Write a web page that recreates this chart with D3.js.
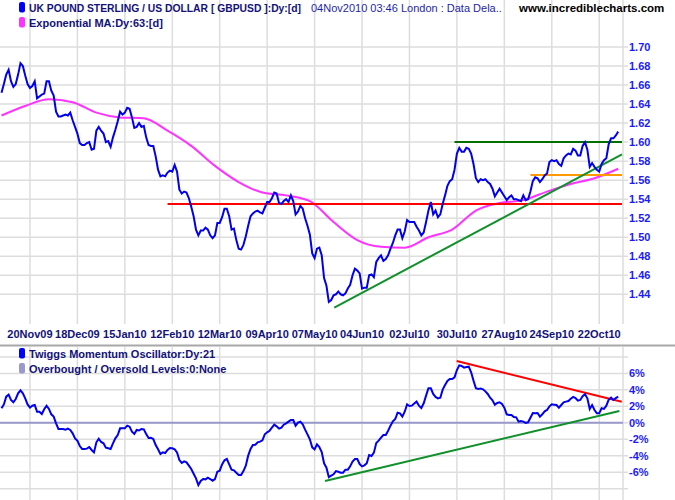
<!DOCTYPE html>
<html>
<head>
<meta charset="utf-8">
<script src="https://cdn.jsdelivr.net/npm/d3@7.9.0/dist/d3.min.js"></script>
<style>
  body { margin: 0; background: #fff; }
  svg { display: block; font-family: "Liberation Sans", Arial, sans-serif; font-weight: bold; }
</style>
</head>
<body>
<svg id="chart" width="675" height="500"></svg>
<script>
// GBPUSD daily close, one value per trading day (04Nov09 .. 03Nov10)
const price = [
  1.652, 1.661, 1.671, 1.676, 1.664, 1.658, 1.661, 1.671, 1.683, 1.680,
  1.670, 1.661, 1.657, 1.659, 1.664, 1.646, 1.648, 1.650, 1.651, 1.664,
  1.664, 1.654, 1.649, 1.632, 1.627, 1.627, 1.628, 1.629, 1.628, 1.631,
  1.623, 1.616, 1.609, 1.599, 1.597, 1.597, 1.599, 1.600, 1.592, 1.593,
  1.612, 1.616, 1.612, 1.609, 1.600, 1.601, 1.595, 1.605, 1.613, 1.622,
  1.632, 1.629, 1.631, 1.636, 1.635, 1.626, 1.615, 1.616, 1.620, 1.616,
  1.617, 1.605, 1.597, 1.596, 1.596, 1.585, 1.571, 1.564, 1.565, 1.564,
  1.568, 1.570, 1.569, 1.576, 1.569, 1.550, 1.546, 1.548, 1.547, 1.541,
  1.532, 1.522, 1.508, 1.502, 1.507, 1.507, 1.510, 1.508, 1.502, 1.499,
  1.502, 1.515, 1.515, 1.521, 1.530, 1.530, 1.522, 1.508, 1.509, 1.497,
  1.488, 1.487, 1.492, 1.501, 1.512, 1.522, 1.525, 1.527, 1.528, 1.526,
  1.525, 1.531, 1.537, 1.537, 1.541, 1.547, 1.546, 1.536, 1.535, 1.538,
  1.540, 1.537, 1.544, 1.538, 1.524, 1.527, 1.533, 1.530, 1.520, 1.512,
  1.503, 1.483, 1.478, 1.488, 1.489, 1.481, 1.457, 1.449, 1.432, 1.434,
  1.439, 1.440, 1.443, 1.440, 1.439, 1.441, 1.446, 1.450, 1.460, 1.467,
  1.465, 1.462, 1.446, 1.447, 1.447, 1.460, 1.461, 1.458, 1.474, 1.478,
  1.481, 1.475, 1.477, 1.481, 1.488, 1.494, 1.502, 1.508, 1.508, 1.499,
  1.506, 1.518, 1.516, 1.516, 1.516, 1.511, 1.507, 1.502, 1.505, 1.516,
  1.528, 1.537, 1.524, 1.528, 1.521, 1.524, 1.535, 1.544, 1.554, 1.559,
  1.561, 1.571, 1.588, 1.594, 1.590, 1.590, 1.594, 1.593, 1.588, 1.577,
  1.562, 1.558, 1.561, 1.560, 1.561, 1.558, 1.556, 1.551, 1.543, 1.547,
  1.551, 1.547, 1.543, 1.539, 1.542, 1.544, 1.540, 1.540, 1.539, 1.538,
  1.544, 1.539, 1.540, 1.548, 1.559, 1.563, 1.562, 1.558, 1.561, 1.565,
  1.567, 1.579, 1.581, 1.580, 1.581, 1.577, 1.575, 1.583, 1.586, 1.588,
  1.587, 1.593, 1.591, 1.586, 1.586, 1.596, 1.600, 1.592, 1.574, 1.578,
  1.574, 1.571, 1.569, 1.577, 1.581, 1.583, 1.598, 1.604, 1.604, 1.607,
  1.611
];
// 63-day exponential MA, one value every 10 trading days
const ema = [
  1.628, 1.638, 1.645, 1.642, 1.631, 1.626, 1.625, 1.612, 1.596, 1.575,
  1.558, 1.547, 1.544, 1.538, 1.516, 1.497, 1.490, 1.489, 1.500, 1.508,
  1.528, 1.536, 1.539, 1.548, 1.556, 1.562, 1.572
];
// Twiggs Momentum Oscillator (%), one value per trading day
const momentum = [
  1.76, 2.23, 3.18, 3.42, 2.77, 2.49, 2.89, 3.58, 3.95, 3.58,
  2.97, 2.23, 1.84, 2.08, 2.16, 1.35, 1.35, 1.07, 1.64, 2.08,
  1.68, 1.03, 0.75, -0.06, -0.75, -0.75, -0.75, -0.83, -0.71, -0.87,
  -1.28, -1.89, -2.17, -2.82, -3.18, -3.18, -3.14, -2.94, -3.30, -3.59,
  -2.37, -1.93, -2.33, -2.49, -3.02, -3.10, -3.18, -2.49, -1.89, -1.48,
  -0.67, -0.67, -0.67, -0.35, -0.47, -1.08, -1.36, -0.87, -0.92, -0.75,
  -0.79, -1.36, -1.85, -1.81, -1.97, -2.70, -3.22, -3.79, -3.59, -3.67,
  -3.30, -3.06, -3.10, -3.22, -3.59, -4.52, -4.88, -4.68, -4.80, -5.21,
  -5.61, -6.18, -6.75, -7.56, -7.07, -6.83, -6.87, -6.67, -6.83, -7.03,
  -6.83, -5.94, -5.82, -5.05, -4.56, -4.40, -5.05, -5.69, -5.78, -6.06,
  -6.34, -6.34, -5.86, -5.21, -3.99, -3.18, -2.70, -2.66, -2.37, -2.29,
  -2.13, -1.40, -1.16, -0.96, -0.59, -0.23, -0.43, -0.71, -0.59, -0.23,
  -0.06, 0.14, 0.34, 0.34, -0.35, 0.02, 0.14, -0.19, -0.83, -1.40,
  -2.0, -2.98, -3.22, -2.62, -2.94, -3.55, -4.92, -5.45, -6.6, -6.42,
  -6.26, -5.86, -5.94, -6.06, -6.06, -5.69, -5.69, -5.29, -4.72, -4.40,
  -4.40, -5.01, -5.29, -5.17, -4.92, -3.91, -4.03, -3.63, -2.45, -2.17,
  -1.81, -1.48, -1.48, -0.96, -0.35, 0.18, 0.46, 1.23, 1.15, 0.75,
  1.35, 2.24, 2.04, 2.08, 2.33, 2.57, 2.08, 1.80, 2.37, 3.30,
  4.19, 4.19, 3.50, 3.14, 2.97, 3.05, 4.03, 4.59, 5.08, 5.32,
  5.32, 5.52, 6.41, 6.98, 6.9, 6.70, 6.78, 6.82, 6.13, 5.12,
  4.19, 4.11, 4.15, 4.07, 3.82, 3.50, 3.05, 2.73, 2.20, 2.41,
  2.49, 2.28, 1.84, 1.03, 0.95, 0.95, 0.70, 0.66, 0.14, 0.22,
  0.14, -0.02, 0.06, 0.62, 1.19, 1.15, 1.19, 0.75, 1.03, 1.40,
  1.56, 2.00, 2.24, 2.20, 2.16, 1.84, 2.16, 2.49, 2.57, 2.65,
  2.93, 3.14, 3.01, 2.69, 2.77, 3.22, 3.46, 2.97, 1.68, 2.16,
  1.56, 1.15, 1.15, 1.76, 1.68, 2.08, 2.81, 3.05, 2.77, 3.01,
  3.18
];

// date axis: label and trading-day index
const dateLabels = ['20Nov09', '18Dec09', '15Jan10', '12Feb10', '12Mar10', '09Apr10', '07May10',
                    '04Jun10', '02Jul10', '30Jul10', '27Aug10', '24Sep10', '22Oct10'];
const dateIdx = [12, 32, 52, 72, 92, 112, 132, 152, 172, 192, 212, 232, 252];
const priceTicks = [1.44, 1.46, 1.48, 1.50, 1.52, 1.54, 1.56, 1.58, 1.60, 1.62, 1.64, 1.66, 1.68, 1.70];
const momTicks = [-6, -4, -2, 0, 2, 4, 6];
const momGrid = [-8, -6, -4, -2, 0, 2, 4, 6, 8];

// drawn trend lines: [dayIndex, value] pairs
const priceTrend = [
  { a: [70, 1.535], b: [261.6, 1.535], color: '#ff0000' },
  { a: [191, 1.600], b: [261.6, 1.600], color: '#007000' },
  { a: [223, 1.5655], b: [261.6, 1.5655], color: '#ff9900' },
  { a: [140.3, 1.426], b: [261.6, 1.587], color: '#10902a' }
];
const momTrend = [
  { a: [191.9, 7.5], b: [261.5, 2.56], color: '#ff0000' },
  { a: [136.4, -7.07], b: [260.5, 1.43], color: '#10902a' }
];

const svg = d3.select('#chart');
svg.append('rect').attr('width', 675).attr('height', 500).attr('fill', '#fff');

const x = d3.scaleLinear().domain([0, 260]).range([1.5, 618.2]);
const y = d3.scaleLinear().domain([1.44, 1.70]).range([294.3, 47]);
const y2 = d3.scaleLinear().domain([-6, 6]).range([472.2, 373.4]);
const axisX = 623;

const grid = '#dddddd';
// vertical grid
dateIdx.forEach(i => {
  svg.append('line').attr('x1', x(i)).attr('x2', x(i)).attr('y1', 0).attr('y2', 324)
    .attr('stroke', grid).attr('stroke-width', 1.5);
  svg.append('line').attr('x1', x(i)).attr('x2', x(i)).attr('y1', 347).attr('y2', 500)
    .attr('stroke', grid).attr('stroke-width', 1.5);
});
// horizontal grid
priceTicks.forEach(v => {
  svg.append('line').attr('x1', 0).attr('x2', axisX + 5).attr('y1', y(v)).attr('y2', y(v))
    .attr('stroke', grid).attr('stroke-width', 1.5);
});
momGrid.forEach(v => {
  svg.append('line').attr('x1', 0).attr('x2', axisX + 5).attr('y1', y2(v)).attr('y2', y2(v))
    .attr('stroke', grid).attr('stroke-width', 1.5);
});
// right axis lines and panel separator
svg.append('line').attr('x1', axisX).attr('x2', axisX).attr('y1', 0).attr('y2', 324)
  .attr('stroke', grid).attr('stroke-width', 1.5);
svg.append('line').attr('x1', axisX).attr('x2', axisX).attr('y1', 347).attr('y2', 500)
  .attr('stroke', grid).attr('stroke-width', 1.5);
svg.append('line').attr('x1', 0).attr('x2', 675).attr('y1', 345.5).attr('y2', 345.5)
  .attr('stroke', '#a8a8a8').attr('stroke-width', 2);

// axis labels
svg.selectAll('.plab').data(priceTicks).join('text')
  .attr('x', 629).attr('y', d => y(d)).attr('dy', '0.35em')
  .attr('font-size', 11).attr('fill', '#1a1aff').text(d => d.toFixed(2));
svg.selectAll('.mlab').data(momTicks).join('text')
  .attr('x', 629).attr('y', d => y2(d)).attr('dy', '0.35em')
  .attr('font-size', 11).attr('fill', '#1a1aff').text(d => d + '%');
svg.selectAll('.dlab').data(dateLabels).join('text')
  .attr('x', (d, i) => x(dateIdx[i])).attr('y', 337.5).attr('text-anchor', 'middle')
  .attr('font-size', 11).attr('fill', '#12127a').text(d => d);

// zero line of oscillator
svg.append('line').attr('x1', 0).attr('x2', axisX).attr('y1', y2(0)).attr('y2', y2(0))
  .attr('stroke', '#9999cc').attr('stroke-width', 2);

const line = (ys, step) => d3.line().x((d, i) => x(i * step)).y(d => ys(d));

// price panel
svg.append('path').datum(ema).attr('d', line(y, 10).curve(d3.curveMonotoneX))
  .attr('fill', 'none').attr('stroke', '#ff33ff').attr('stroke-width', 2);
priceTrend.forEach(t => {
  svg.append('line').attr('x1', x(t.a[0])).attr('y1', y(t.a[1]))
    .attr('x2', x(t.b[0])).attr('y2', y(t.b[1]))
    .attr('stroke', t.color).attr('stroke-width', 2);
});
svg.append('path').datum(price).attr('d', line(y, 1))
  .attr('fill', 'none').attr('stroke', '#0000ee').attr('stroke-width', 2);

// oscillator panel
momTrend.forEach(t => {
  svg.append('line').attr('x1', x(t.a[0])).attr('y1', y2(t.a[1]))
    .attr('x2', x(t.b[0])).attr('y2', y2(t.b[1]))
    .attr('stroke', t.color).attr('stroke-width', 2);
});
svg.append('path').datum(momentum).attr('d', line(y2, 1))
  .attr('fill', 'none').attr('stroke', '#0000ee').attr('stroke-width', 2);

// legends
function legend(yBase, color, txt) {
  svg.append('rect').attr('x', 19).attr('y', yBase - 9.5).attr('width', 6).attr('height', 10.5)
    .attr('rx', 2).attr('fill', color);
  return svg.append('text').attr('x', 29).attr('y', yBase).attr('font-size', 11)
    .attr('fill', '#12127a').text(txt);
}
legend(11.5, '#0000ff', 'UK POUND STERLING / US DOLLAR [ GBPUSD ]:Dy:[d]')
  .attr('textLength', 272).attr('lengthAdjust', 'spacingAndGlyphs');
svg.append('text').attr('x', 311).attr('y', 11.5).attr('font-size', 11).attr('font-weight', 'normal')
  .attr('fill', '#1f1fa8').text('04Nov2010 03:46 London : Data Dela..');
legend(26.5, '#ff33ff', 'Exponential MA:Dy:63:[d]');
legend(357.5, '#0000ff', 'Twiggs Momentum Oscillator:Dy:21');
legend(372.5, '#9999cc', 'Overbought / Oversold Levels:0:None');
svg.append('text').attr('x', 519).attr('y', 11.5).attr('font-size', 11.5)
  .attr('fill', '#000').text('www.incrediblecharts.com');
</script>
</body>
</html>
